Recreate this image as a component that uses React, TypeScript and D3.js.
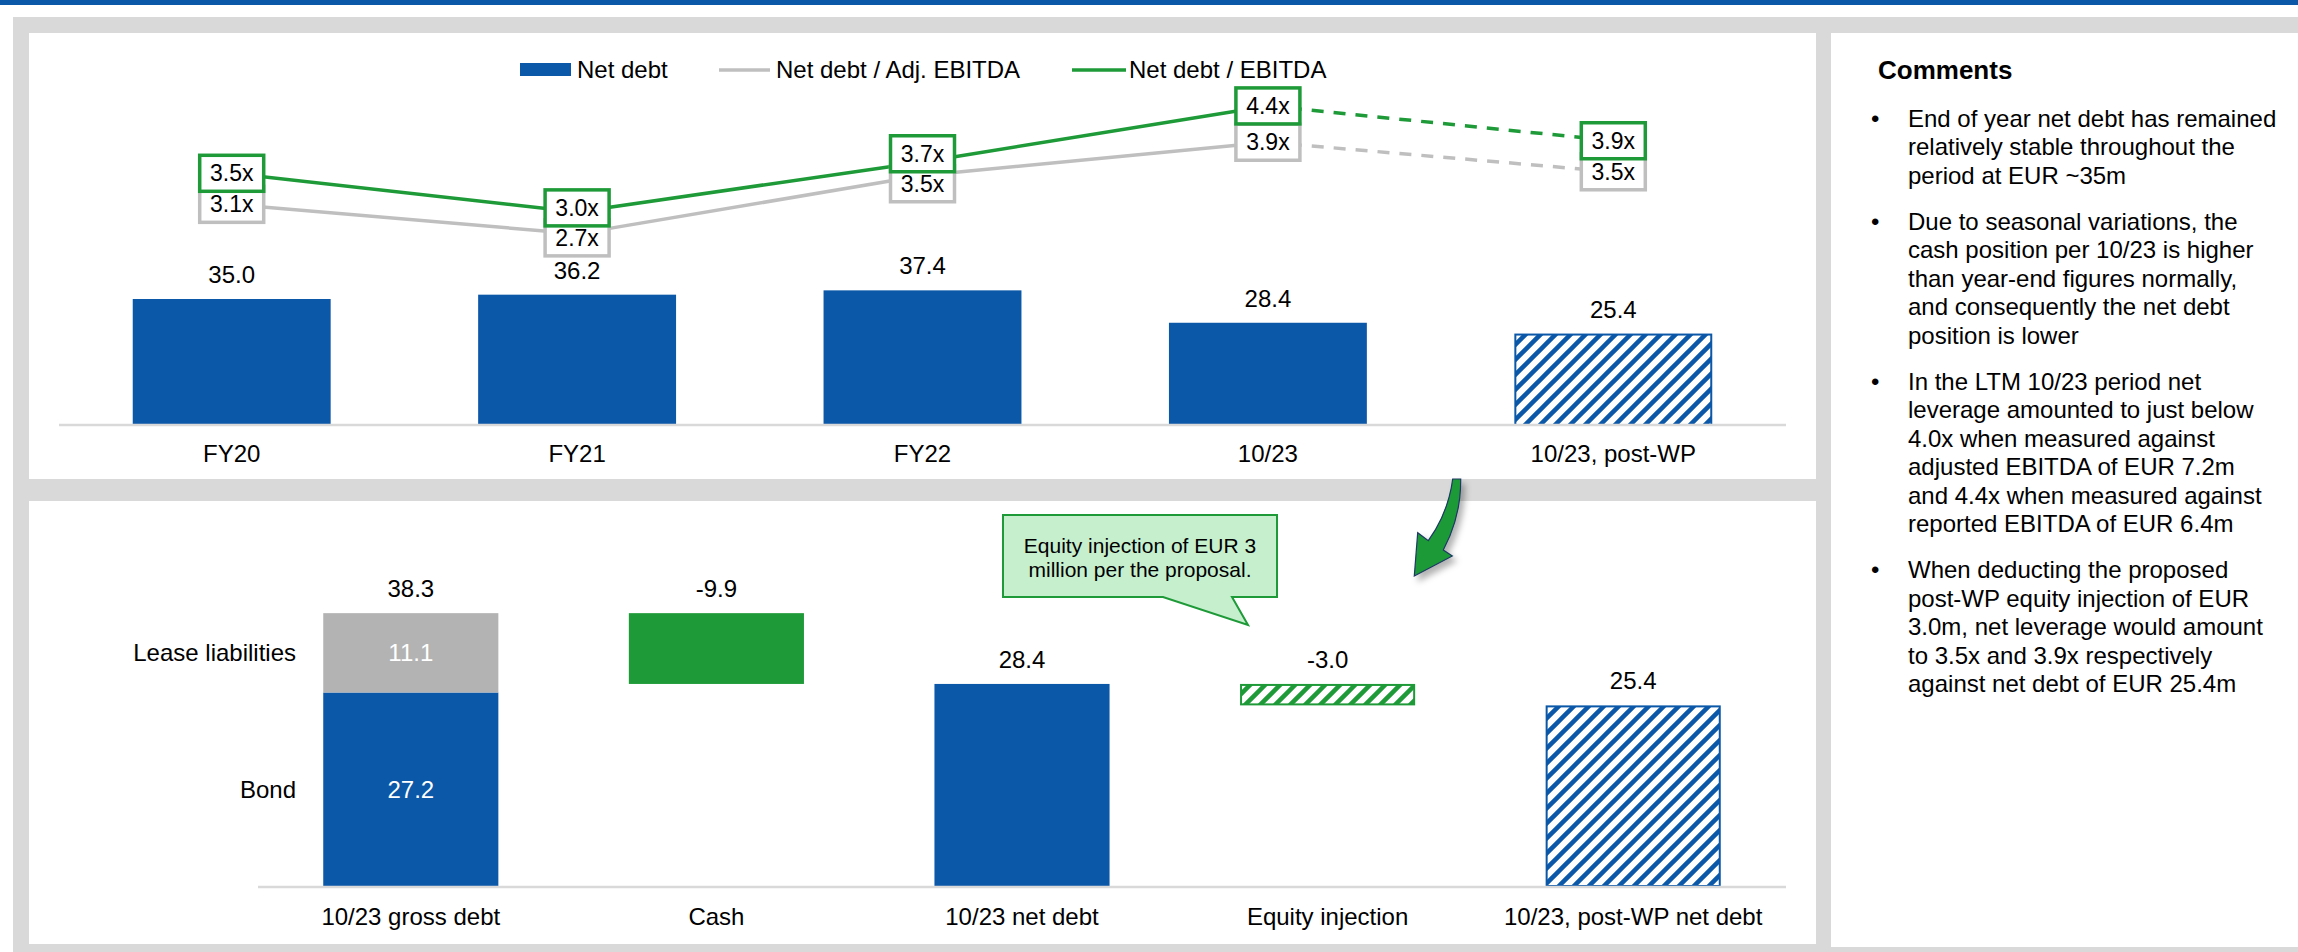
import React from "react";
import * as d3 from "d3";

const W = 2298;
const H = 952;
const FONT = '"Liberation Sans", Arial, Helvetica, sans-serif';
const BLUE = "#0B57A8";
const GREEN = "#1E9A38";
const GREY_LINE = "#BFBFBF";
const LEASE_GREY = "#B3B3B3";
const PANEL_GREY = "#D9D9D9";
const AXIS_GREY = "#D9D9D9";

// ---------- top chart data ----------
const periods = ["FY20", "FY21", "FY22", "10/23", "10/23, post-WP"];
const netDebt = [35.0, 36.2, 37.4, 28.4, 25.4];
const leverageAdjEbitda = [3.1, 2.71, 3.48, 3.92, 3.53];
const leverageEbitda = [3.51, 3.0, 3.66, 4.4, 3.94];
const isProForma = [false, false, false, false, true];
const legendLabels = ["Net debt", "Net debt / Adj. EBITDA", "Net debt / EBITDA"];

// ---------- bottom chart data ----------
const bridgeSteps = ["10/23 gross debt", "Cash", "10/23 net debt", "Equity injection", "10/23, post-WP net debt"];
const bridgeValues = [38.3, -9.9, 28.4, -3.0, 25.4];
const bridgeIsTotal = [true, false, true, false, true];
const bridgeIsProForma = [false, false, false, true, true];
const grossComponents = ["Bond", "Lease liabilities"];
const grossComponentValues = [27.2, 11.1];

const calloutLines = ["Equity injection of EUR 3", "million per the proposal."];

const commentsTitle = "Comments";
const commentParagraphs = [
  ["End of year net debt has remained", "relatively stable throughout the", "period at EUR ~35m"],
  [
    "Due to seasonal variations, the",
    "cash position per 10/23 is higher",
    "than year-end figures normally,",
    "and consequently the net debt",
    "position is lower",
  ],
  [
    "In the LTM 10/23 period net",
    "leverage amounted to just below",
    "4.0x when measured against",
    "adjusted EBITDA of EUR 7.2m",
    "and 4.4x when measured against",
    "reported EBITDA of EUR 6.4m",
  ],
  [
    "When deducting the proposed",
    "post-WP equity injection of EUR",
    "3.0m, net leverage would amount",
    "to 3.5x and 3.9x respectively",
    "against net debt of EUR 25.4m",
  ],
];

export default function App() {
  // ---- top chart scales ----
  const xTop = d3.scaleBand<string>().domain(periods).range([59, 1786]).paddingInner(0.427).paddingOuter(0.2135);
  const bwTop = xTop.bandwidth();
  const yTop = d3.scaleLinear().domain([0, 40]).range([425, 281]);
  const yRatio = d3.scaleLinear().domain([0, 5]).range([439, 60.5]);
  const cx = (p: string) => (xTop(p) as number) + bwTop / 2;

  const line = d3.line<[number, number]>();
  const seriesPaths = (vals: number[]) => {
    const pts: [number, number][] = periods.map((p, i) => [cx(p), yRatio(vals[i])]);
    const segs: { d: string; dashed: boolean }[] = [];
    for (let i = 1; i < pts.length; i++) {
      segs.push({ d: line([pts[i - 1], pts[i]]) as string, dashed: isProForma[i] || isProForma[i - 1] });
    }
    return segs;
  };
  const adjSegs = seriesPaths(leverageAdjEbitda);
  const repSegs = seriesPaths(leverageEbitda);

  const boxW = 64;
  const boxH = 36;
  const labelPos = periods.map((p, i) => {
    let g = yRatio(leverageEbitda[i]);
    let r = yRatio(leverageAdjEbitda[i]);
    if (r - g < 30) {
      const m = (g + r) / 2;
      g = m - 15;
      r = m + 15;
    }
    return { x: cx(p), g, r };
  });

  // ---- bottom chart scales ----
  const xBot = d3.scaleBand<string>().domain(bridgeSteps).range([258, 1786]).paddingInner(0.427).paddingOuter(0.2135);
  const bwBot = xBot.bandwidth();
  const yBot = d3.scaleLinear().domain([0, 40]).range([887, 601]);
  let running = 0;
  const bridgeBars = bridgeSteps.map((s, i) => {
    const v = bridgeValues[i];
    let lo: number, hi: number;
    if (bridgeIsTotal[i]) {
      lo = 0;
      hi = v;
      running = v;
    } else {
      lo = running + v;
      hi = running;
      running = running + v;
    }
    return { s, v, lo, hi, total: bridgeIsTotal[i], pf: bridgeIsProForma[i] };
  });
  const stackOffsets = grossComponentValues.map((_, i) => d3.sum(grossComponentValues.slice(0, i)));

  // comments layout
  const lineH = 28.5;
  const paraGap = 46;
  const commentLines: { text: string; y: number; bullet: boolean }[] = [];
  let cy = 118;
  commentParagraphs.forEach((para, pi) => {
    if (pi > 0) cy += paraGap - lineH;
    para.forEach((t, li) => {
      commentLines.push({ text: t, y: cy + 8.5, bullet: li === 0 });
      cy += lineH;
    });
  });

  const txt = { fontFamily: FONT, fontSize: 24, fill: "#000" } as const;

  return (
    <svg
      width={W}
      height={H}
      viewBox={`0 0 ${W} ${H}`}
      style={{ position: "absolute", left: 0, top: 0, display: "block", background: "#fff" }}
    >
      <defs>
        <pattern id="hatchBlue" patternUnits="userSpaceOnUse" width="15" height="15">
          <rect width="15" height="15" fill="#fff" />
          <path d="M-3.75,3.75 l7.5,-7.5 M0,15 l15,-15 M11.25,18.75 l7.5,-7.5" stroke={BLUE} strokeWidth="4.5" />
        </pattern>
        <pattern id="hatchGreen" patternUnits="userSpaceOnUse" width="15" height="15">
          <rect width="15" height="15" fill="#fff" />
          <path d="M-3.75,3.75 l7.5,-7.5 M0,15 l15,-15 M11.25,18.75 l7.5,-7.5" stroke={GREEN} strokeWidth="4.5" />
        </pattern>
        <filter id="shadow" x="-50%" y="-50%" width="200%" height="200%">
          <feDropShadow dx="4" dy="5" stdDeviation="3" floodColor="#000" floodOpacity="0.3" />
        </filter>
      </defs>

      {/* page frame */}
      <rect x={0} y={0} width={W} height={5} fill={BLUE} />
      <rect x={13} y={17} width={W - 13} height={H - 17} fill={PANEL_GREY} />
      <rect x={29} y={33} width={1787} height={446} fill="#fff" />
      <rect x={29} y={501} width={1787} height={443} fill="#fff" />
      <rect x={1831} y={33} width={W - 1831} height={914} fill="#fff" />

      {/* ---------- TOP CHART ---------- */}
      {/* legend */}
      <g>
        <rect x={520} y={63} width={51} height={13} fill={BLUE} />
        <text x={577} y={78} {...txt}>{legendLabels[0]}</text>
        <line x1={719} x2={770} y1={70} y2={70} stroke={GREY_LINE} strokeWidth={3.5} />
        <text x={776} y={78} {...txt}>{legendLabels[1]}</text>
        <line x1={1072} x2={1126} y1={70} y2={70} stroke={GREEN} strokeWidth={3.5} />
        <text x={1129} y={78} {...txt}>{legendLabels[2]}</text>
      </g>

      {/* bars */}
      {periods.map((p, i) => (
        <g key={p}>
          <rect
            x={(xTop(p) as number) + (isProForma[i] ? 1 : 0)}
            y={yTop(netDebt[i]) + (isProForma[i] ? 1 : 0)}
            width={bwTop - (isProForma[i] ? 2 : 0)}
            height={yTop(0) - yTop(netDebt[i]) - (isProForma[i] ? 1 : 0)}
            fill={isProForma[i] ? "url(#hatchBlue)" : BLUE}
            stroke={isProForma[i] ? BLUE : "none"}
            strokeWidth={2}
          />
          <text x={cx(p)} y={yTop(netDebt[i]) - 16} textAnchor="middle" {...txt}>
            {netDebt[i].toFixed(1)}
          </text>
          <text x={cx(p)} y={462} textAnchor="middle" {...txt}>
            {p}
          </text>
        </g>
      ))}
      <line x1={59} x2={1786} y1={425} y2={425} stroke={AXIS_GREY} strokeWidth={2.5} />

      {/* leverage lines */}
      {adjSegs.map((s, i) => (
        <path key={"a" + i} d={s.d} fill="none" stroke={GREY_LINE} strokeWidth={3.5}
          strokeDasharray={s.dashed ? "12 10" : undefined} />
      ))}
      {repSegs.map((s, i) => (
        <path key={"r" + i} d={s.d} fill="none" stroke={GREEN} strokeWidth={3.5}
          strokeDasharray={s.dashed ? "12 10" : undefined} />
      ))}

      {/* leverage labels */}
      {labelPos.map((l, i) => (
        <g key={"lb" + i}>
          <rect x={l.x - boxW / 2} y={l.r - boxH / 2} width={boxW} height={boxH} fill="#fff" stroke={GREY_LINE} strokeWidth={3.5} />
          <text x={l.x} y={l.r + 8} textAnchor="middle" {...txt} fontSize={23}>
            {leverageAdjEbitda[i].toFixed(1) + "x"}
          </text>
        </g>
      ))}
      {labelPos.map((l, i) => (
        <g key={"lg" + i}>
          <rect x={l.x - boxW / 2} y={l.g - boxH / 2} width={boxW} height={boxH} fill="#fff" stroke={GREEN} strokeWidth={3.5} />
          <text x={l.x} y={l.g + 8} textAnchor="middle" {...txt} fontSize={23}>
            {leverageEbitda[i].toFixed(1) + "x"}
          </text>
        </g>
      ))}

      {/* ---------- BOTTOM CHART ---------- */}
      {bridgeBars.map((b, i) => {
        const x = xBot(b.s) as number;
        const c = x + bwBot / 2;
        const top = yBot(b.hi);
        const bottom = yBot(b.lo);
        let body: React.ReactNode;
        if (i === 0) {
          body = grossComponents.map((name, k) => {
            const y0 = yBot(stackOffsets[k]);
            const y1 = yBot(stackOffsets[k] + grossComponentValues[k]);
            const mid = (y0 + y1) / 2;
            return (
              <g key={name}>
                <rect x={x} y={y1} width={bwBot} height={y0 - y1} fill={k === 0 ? BLUE : LEASE_GREY} />
                <text x={c} y={mid + 8.5} textAnchor="middle" {...txt} fill="#fff">
                  {grossComponentValues[k].toFixed(1)}
                </text>
                <text x={296} y={mid + 8.5} textAnchor="end" {...txt}>
                  {name}
                </text>
              </g>
            );
          });
        } else {
          const color = b.total ? BLUE : GREEN;
          body = b.pf ? (
            <rect x={x + 1} y={top + 1} width={bwBot - 2} height={bottom - top - 2}
              fill={b.total ? "url(#hatchBlue)" : "url(#hatchGreen)"} stroke={color} strokeWidth={2} />
          ) : (
            <rect x={x} y={top} width={bwBot} height={bottom - top} fill={color} />
          );
        }
        return (
          <g key={b.s}>
            {body}
            <text x={c} y={top - 16} textAnchor="middle" {...txt}>
              {b.v.toFixed(1)}
            </text>
            <text x={c} y={925} textAnchor="middle" {...txt}>
              {b.s}
            </text>
          </g>
        );
      })}
      <line x1={258} x2={1786} y1={887} y2={887} stroke={AXIS_GREY} strokeWidth={2.5} />

      {/* callout */}
      <path
        d="M1003,515 H1277 V597 H1232 L1248,625 L1163,597 H1003 Z"
        fill="#C6EFCE"
        stroke={GREEN}
        strokeWidth={2}
      />
      {calloutLines.map((t, i) => (
        <text key={t} x={1140} y={553 + i * 24} textAnchor="middle" {...txt} fontSize={21}>
          {t}
        </text>
      ))}

      {/* curved arrow */}
      <path
        d="M1452.7,479 C1450,500 1441,523 1428.3,540.7 L1417.7,532.7 L1414.3,576 L1452.3,556 L1443.3,550 C1455,528 1461,505 1460.7,479 Z"
        fill={GREEN}
        stroke="#1F3864"
        strokeWidth={1.2}
        filter="url(#shadow)"
      />

      {/* ---------- COMMENTS ---------- */}
      <text x={1878} y={79} {...txt} fontSize={26} fontWeight="bold">
        {commentsTitle}
      </text>
      {commentLines.map((l, i) => (
        <g key={"c" + i}>
          {l.bullet && (
            <text x={1871} y={l.y} {...txt}>
              •
            </text>
          )}
          <text x={1908} y={l.y} {...txt}>
            {l.text}
          </text>
        </g>
      ))}
    </svg>
  );
}
